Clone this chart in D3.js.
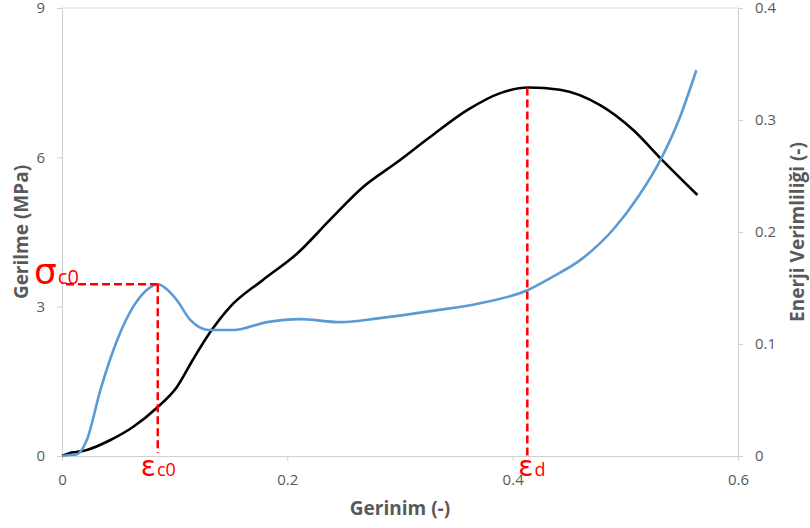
<!DOCTYPE html>
<html>
<head>
<meta charset="utf-8">
<script src="https://cdn.jsdelivr.net/npm/d3@7"></script>
<style>
  body { margin: 0; background: #fff; }
  svg { display: block; font-family: "Open Sans", sans-serif; }
  .title { fill: #595959; font-size: 19px; font-weight: bold; }
  .ann { fill: #ff0000; }
</style>
</head>
<body>
<div id="chart"></div>
<script>
// stress curve (left axis, MPa)
const stressStrain = [0, 0.007, 0.013, 0.022, 0.034, 0.049, 0.063, 0.075, 0.085, 0.094, 0.102, 0.114, 0.131, 0.152, 0.182, 0.211, 0.247, 0.282, 0.327, 0.371, 0.413, 0.433, 0.462, 0.490, 0.512, 0.531, 0.548, 0.563];
const stressMPa    = [0, 0.02, 0.03, 0.32, 1.32, 2.33, 2.99, 3.33, 3.45, 3.33, 3.13, 2.73, 2.53, 2.53, 2.69, 2.75, 2.69, 2.77, 2.91, 3.07, 3.33, 3.57, 3.97, 4.57, 5.23, 5.94, 6.78, 7.75];

// energy efficiency curve (right axis)
const effStrain = [0, 0.007, 0.013, 0.022, 0.043, 0.063, 0.084, 0.102, 0.116, 0.131, 0.149, 0.178, 0.209, 0.238, 0.267, 0.297, 0.327, 0.360, 0.389, 0.414, 0.442, 0.478, 0.507, 0.531, 0.564];
const effValue  = [0, 0.0027, 0.0036, 0.0054, 0.0143, 0.0259, 0.0429, 0.0616, 0.0857, 0.1098, 0.133, 0.157, 0.181, 0.211, 0.240, 0.262, 0.285, 0.309, 0.324, 0.329, 0.327, 0.313, 0.291, 0.266, 0.233];

const xTicks = [0, 0.2, 0.4, 0.6];
const yLeftTicks = [0, 3, 6, 9];
const yRightTicks = [0, 0.1, 0.2, 0.3, 0.4];

// annotation points
const sigmaC0 = 3.45;
const epsC0 = 0.085;
const epsD = 0.413;
const effPeak = 0.329;

const W = 810, H = 528;
const margin = { top: 8, right: 72, bottom: 72, left: 62 };

const svg = d3.select("#chart").append("svg")
  .attr("width", W).attr("height", H);

const x = d3.scaleLinear().domain([0, 0.6]).range([margin.left, W - margin.right]);
const yL = d3.scaleLinear().domain([0, 9]).range([H - margin.bottom, margin.top]);
const yR = d3.scaleLinear().domain([0, 0.4]).range([H - margin.bottom, margin.top]);

const fmt = d => d === 0 ? "0" : d3.format(".1f")(d);

// top border of plot area
svg.append("line")
  .attr("x1", x(0)).attr("x2", x(0.6))
  .attr("y1", yL(9)).attr("y2", yL(9))
  .attr("stroke", "#d9d9d9");

function styleAxis(g) {
  g.attr("font-size", 15).attr("font-family", "'Open Sans', sans-serif");
  g.select(".domain").attr("stroke", "#d0d0d0");
  g.selectAll(".tick line").attr("stroke", "#d0d0d0");
  g.selectAll(".tick text").attr("fill", "#595959").style("font-size", "15px");
}

svg.append("g")
  .attr("transform", `translate(0,${yL(0)})`)
  .call(d3.axisBottom(x).tickValues(xTicks).tickFormat(fmt).tickSize(5).tickPadding(13).tickSizeOuter(0))
  .call(styleAxis);

svg.append("g")
  .attr("transform", `translate(${x(0)},0)`)
  .call(d3.axisLeft(yL).tickValues(yLeftTicks).tickSize(5).tickPadding(12).tickSizeOuter(0))
  .call(styleAxis);

svg.append("g")
  .attr("transform", `translate(${x(0.6)},0)`)
  .call(d3.axisRight(yR).tickValues(yRightTicks).tickFormat(fmt).tickSize(5).tickPadding(12).tickSizeOuter(0))
  .call(styleAxis);

// curves
const stressData = stressStrain.map((s, i) => [s, stressMPa[i]]);
const effData = effStrain.map((s, i) => [s, effValue[i]]);

svg.append("path")
  .datum(effData)
  .attr("fill", "none").attr("stroke", "#000").attr("stroke-width", 2.6)
  .attr("d", d3.line().curve(d3.curveMonotoneX).x(d => x(d[0])).y(d => yR(d[1])));

svg.append("path")
  .datum(stressData)
  .attr("fill", "none").attr("stroke", "#5b9bd5").attr("stroke-width", 2.6)
  .attr("d", d3.line().curve(d3.curveMonotoneX).x(d => x(d[0])).y(d => yL(d[1])));

// dashed guides
function guide(x1, y1, x2, y2) {
  svg.append("line")
    .attr("x1", x1).attr("y1", y1).attr("x2", x2).attr("y2", y2)
    .attr("stroke", "#ff0000").attr("stroke-width", 2.5).attr("stroke-dasharray", "8,4");
}
guide(x(0) + 4, yL(sigmaC0), x(epsC0), yL(sigmaC0));
guide(x(epsC0), yL(sigmaC0), x(epsC0), yL(0) - 3);
guide(x(epsD), yR(effPeak), x(epsD), yL(0));

// annotation labels
function symLabel(px, py, sym, symSize, sub, subSize) {
  const t = svg.append("text").attr("class", "ann").attr("x", px).attr("y", py)
    .style("font-family", "'DejaVu Sans', sans-serif");
  t.append("tspan").style("font-size", symSize + "px").text(sym);
  t.append("tspan").style("font-size", subSize + "px").attr("dx", 1)
    .style("font-family", "'Open Sans', sans-serif").text(sub);
}
symLabel(34, 284, "σ", 36, "c0", 20);
symLabel(x(epsC0) - 17, 476, "ε", 28, "c0", 18);
symLabel(x(epsD) - 9, 476, "ε", 28, "d", 18);

// axis titles
svg.append("text").attr("class", "title")
  .attr("x", (x(0) + x(0.6)) / 2).attr("y", 515)
  .attr("text-anchor", "middle").text("Gerinim (-)");

svg.append("text").attr("class", "title")
  .attr("transform", `translate(28,${(yL(0) + yL(9)) / 2}) rotate(-90)`)
  .attr("text-anchor", "middle").text("Gerilme (MPa)");

svg.append("text").attr("class", "title")
  .attr("transform", `translate(804,${(yL(0) + yL(9)) / 2}) rotate(-90)`)
  .attr("text-anchor", "middle").text("Enerji Verimliliği (-)");
</script>
</body>
</html>
